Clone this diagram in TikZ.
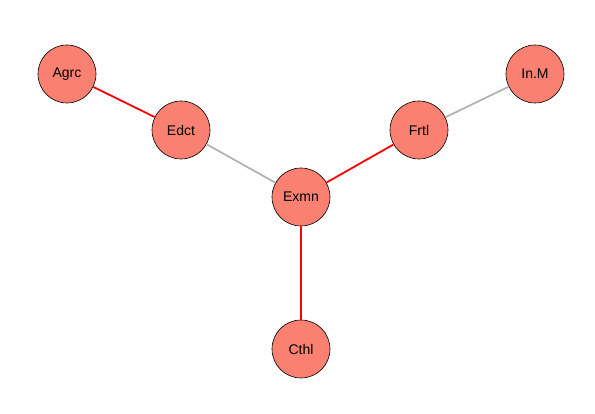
\documentclass[tikz,border=0pt]{standalone}
\usepackage{fontspec}
\setmainfont{Liberation Sans}
\definecolor{salmon}{HTML}{FA8072}
\definecolor{edgegray}{HTML}{B3B3B3}
\begin{document}
\begin{tikzpicture}[x=1pt,y=-1pt,
  vert/.style={circle,draw=black,fill=salmon,line width=0.6pt,minimum size=58pt,inner sep=0pt,font=\fontsize{14}{16}\selectfont},
  redge/.style={draw=red,line width=1.8pt},
  gedge/.style={draw=edgegray,line width=1.8pt}]
\useasboundingbox (0,0) rectangle (595,414);
\node[vert] (Agrc) at (67,74) {Agrc};
\node[vert] (Edct) at (181,130) {Edct};
\node[vert] (Exmn) at (301,197) {Exmn};
\node[vert] (Frtl) at (419,130) {Frtl};
\node[vert] (InM) at (535,74) {In.M};
\node[vert] (Cthl) at (301,349) {Cthl};
\draw[redge] (Agrc) -- (Edct);
\draw[gedge] (Edct) -- (Exmn);
\draw[redge] (Exmn) -- (Frtl);
\draw[gedge] (Frtl) -- (InM);
\draw[redge] (Exmn) -- (Cthl);
\end{tikzpicture}
\end{document}
